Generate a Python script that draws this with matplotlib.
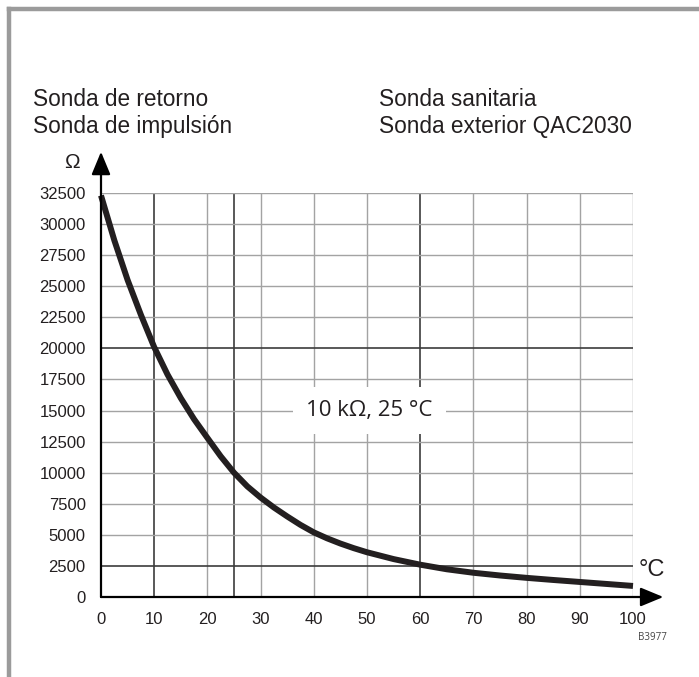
import numpy as np
import matplotlib
matplotlib.use("Agg")
from matplotlib import pyplot as plt
from matplotlib.lines import Line2D

# NTC sensor characteristic, resistance vs temperature
temp_c = [0, 2.5, 5, 7.5, 10, 12.5, 15, 17.5, 20, 22.5, 25, 27.5, 30, 32.5, 35,
          37.5, 40, 42.5, 45, 47.5, 50, 55, 60, 65, 70, 75, 80, 85, 90, 95, 100]
resistance = [32300, 28700, 25500, 22700, 20100, 17900, 16000, 14300, 12800, 11320,
              10000, 8900, 8000, 7200, 6480, 5800, 5200, 4720, 4300, 3930, 3600,
              3050, 2600, 2230, 1950, 1730, 1540, 1370, 1210, 1050, 890]

x_ticks = [0, 10, 20, 30, 40, 50, 60, 70, 80, 90, 100]
y_ticks = [0, 2500, 5000, 7500, 10000, 12500, 15000, 17500, 20000,
           22500, 25000, 27500, 30000, 32500]
x_grid = [10, 20, 25, 30, 40, 50, 60, 70, 80, 90, 100]
y_grid = y_ticks[1:]
x_dark = [10, 25, 60]
y_dark = [2500, 20000]

header = [("Sonda de retorno", "Sonda sanitaria"),
          ("Sonda de impulsión", "Sonda exterior QAC2030")]
point_label = "10 kΩ, 25 °C"
point_xy = (50.5, 15000)
drawing_code = "B3977"

W, H = 699, 677
plt.rcParams['font.family'] = ['Liberation Sans', 'DejaVu Sans']


def fx(px):
    return px / W


def fy(py):
    return 1 - py / H


fig = plt.figure(figsize=(W / 100, H / 100), dpi=100)

# grey frame on top and left
frame = "#9b9b9b"
fig.add_artist(Line2D([fx(9), 1], [fy(9), fy(9)], color=frame, lw=3.2))
fig.add_artist(Line2D([fx(9), fx(9)], [fy(9), 0], color=frame, lw=3.2))

for row, (left, right) in enumerate(header):
    y = fy(99 + row * 27)
    fig.text(fx(33), y, left, fontsize=16.3, va="center", color="#231f20")
    fig.text(fx(379), y, right, fontsize=16.3, va="center", color="#231f20")

ax = fig.add_axes([fx(101), 80 / H, 532 / W, 404 / H])
ax.set_xlim(0, 100)
ax.set_ylim(0, 32500)
for s in ax.spines.values():
    s.set_visible(False)

for x in x_grid:
    dark = x in x_dark
    ax.vlines(x, 0, 32500, color="#3c3c3c" if dark else "#a3a3a3",
              lw=1.2 if dark else 1.0, zorder=1)
for y in y_grid:
    dark = y in y_dark
    ax.hlines(y, 0, 100, color="#3c3c3c" if dark else "#a3a3a3",
              lw=1.2 if dark else 1.0, zorder=1)

ax.set_xticks(x_ticks)
ax.set_yticks(y_ticks)
ax.tick_params(length=0, labelsize=12, labelcolor="#231f20")
ax.tick_params(axis="x", pad=11)
ax.tick_params(axis="y", pad=11)

# axes with arrow heads
arrow = dict(arrowstyle="-|>,head_length=14,head_width=5.8", mutation_scale=1,
             color="black", lw=1.6, shrinkA=0, shrinkB=0)
ax.annotate("", xy=(0, 1.102), xytext=(0, 0), xycoords="axes fraction",
            arrowprops=arrow, annotation_clip=False, zorder=4)
ax.annotate("", xy=(1.057, 0), xytext=(0, 0), xycoords="axes fraction",
            arrowprops=arrow, annotation_clip=False, zorder=4)

ax.plot(temp_c, resistance, color="#231f20", lw=4.3, solid_capstyle="butt",
        solid_joinstyle="round", clip_on=False, zorder=3)

ax.text(point_xy[0], point_xy[1], point_label, fontsize=16, ha="center", va="center",
        family=["Open Sans", "DejaVu Sans"], color="#231f20", zorder=5,
        bbox=dict(boxstyle="square,pad=0.6", facecolor="white", edgecolor="none"))

fig.text(fx(72), fy(162), "Ω", fontsize=15, ha="center", va="center", color="#231f20")
fig.text(fx(652), fy(570), "°C", fontsize=17, ha="center", va="center", color="#231f20")
fig.text(fx(652), fy(638), drawing_code, fontsize=7, ha="center", va="center",
         family=["Open Sans", "DejaVu Sans"], color="#444444")

fig.savefig("out.png", dpi=100, facecolor="white")
